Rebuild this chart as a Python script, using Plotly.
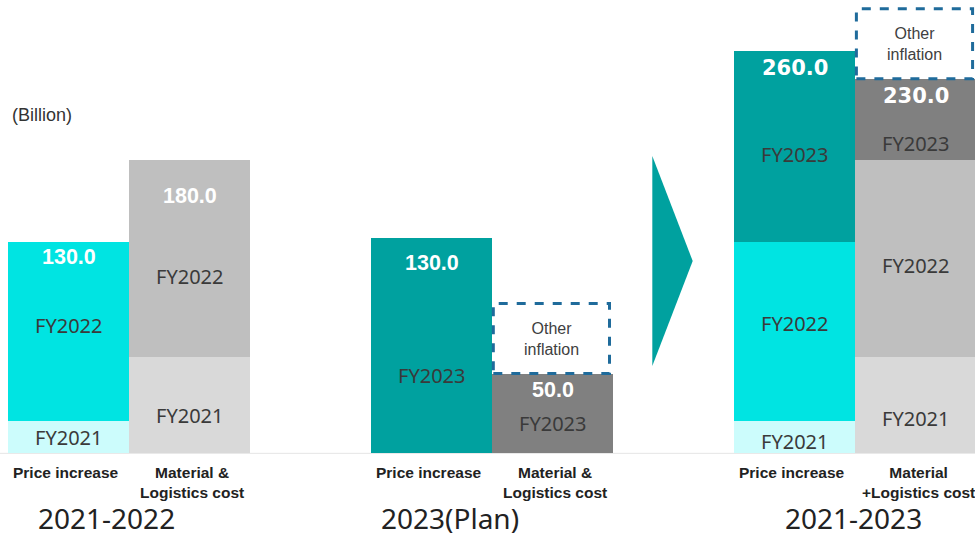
import plotly.graph_objects as go

# ---- data (segment heights as drawn, in billions) ----
groups = ["2021-2022", "2023(Plan)", "2021-2023"]
price_label = "Price increase"
material_labels = ["Material &<br>Logistics cost", "Material &<br>Logistics cost", "Material<br>+Logistics cost"]
segment_names = ["FY2021", "FY2022", "FY2023"]

price_fy2021 = [20, 0, 20]
price_fy2022 = [110, 0, 110]
price_fy2023 = [0, 132, 117]

material_fy2021 = [59, 0, 59]
material_fy2022 = [121, 0, 121]
material_fy2023 = [0, 49, 50]

other_inflation = [0, 43, 43]

price_totals = ["130.0", "130.0", "260.0"]
material_totals = ["180.0", "50.0", "230.0"]

# ---- positions / styles ----
price_x = [0, 3, 6]
material_x = [1, 4, 7]
group_label_x = [0.31, 3.15, 6.49]

price_colors = ["#CCFCFC", "#00E4E2", "#00A19F"]
material_colors = ["#D9D9D9", "#BFBFBF", "#808080"]

price_series = [price_fy2021, price_fy2022, price_fy2023]
material_series = [material_fy2021, material_fy2022, material_fy2023]

# pixel offsets of segment labels from segment middle
price_shift = [[0, 6, 0], [0, 0, -30], [-4, 8, -8]]
material_shift = [[-10, -18, 0], [0, 0, -10], [-13, -7, -24]]
price_total_shift = [-15, -25, -17]
material_total_shift = [-36, -16, -17]
total_fonts = ["Liberation Sans", "Liberation Sans", "DejaVu Sans"]
total_sizes = [21.5, 21.5, 21]

fig = go.Figure()

for i, name in enumerate(segment_names):
    fig.add_trace(go.Bar(x=price_x, y=price_series[i], width=1,
                         marker=dict(color=price_colors[i], line=dict(width=0)),
                         name="Price " + name, showlegend=False, hoverinfo="skip"))
for i, name in enumerate(segment_names):
    fig.add_trace(go.Bar(x=material_x, y=material_series[i], width=1,
                         marker=dict(color=material_colors[i], line=dict(width=0)),
                         name="Material " + name, showlegend=False, hoverinfo="skip"))

annotations = []
shapes = []

seg_font = dict(family="Noto Sans, DejaVu Sans, sans-serif", size=20, color="#3A3A3A")
cat_font = dict(family="Liberation Sans, Arial, sans-serif", size=15.5, color="#222222")

for g in range(3):
    # price segments
    base = 0
    for i in range(3):
        v = price_series[i][g]
        if v > 0:
            annotations.append(dict(x=price_x[g], y=base + v / 2, text=segment_names[i],
                                    showarrow=False, font=seg_font, yshift=price_shift[g][i]))
        base += v
    annotations.append(dict(x=price_x[g], y=base, text="<b>%s</b>" % price_totals[g], showarrow=False,
                            font=dict(family=total_fonts[g], size=total_sizes[g], color="white"),
                            yshift=price_total_shift[g]))
    # material segments
    base = 0
    for i in range(3):
        v = material_series[i][g]
        if v > 0:
            annotations.append(dict(x=material_x[g], y=base + v / 2, text=segment_names[i],
                                    showarrow=False, font=seg_font, yshift=material_shift[g][i]))
        base += v
    annotations.append(dict(x=material_x[g], y=base, text="<b>%s</b>" % material_totals[g], showarrow=False,
                            font=dict(family=total_fonts[g], size=total_sizes[g], color="white"),
                            yshift=material_total_shift[g]))
    # other inflation dashed box
    if other_inflation[g] > 0:
        shapes.append(dict(type="rect", xref="x", yref="y",
                           x0=material_x[g] - 0.49, x1=material_x[g] + 0.47,
                           y0=base, y1=base + other_inflation[g],
                           line=dict(color="#1F6B9B", width=3, dash="dash"),
                           fillcolor="rgba(255,255,255,0)"))
        annotations.append(dict(x=material_x[g] - 0.01, y=base + other_inflation[g] / 2,
                                text="Other<br>inflation", showarrow=False,
                                font=dict(family="Liberation Sans, Arial, sans-serif", size=16, color="#404040")))
    # category labels
    annotations.append(dict(x=price_x[g] - 0.02, y=0, yanchor="top", yshift=-9, text="<b>%s</b>" % price_label,
                            showarrow=False, font=cat_font))
    annotations.append(dict(x=material_x[g] + 0.02, y=0, yanchor="top", yshift=-9,
                            text="<b>%s</b>" % material_labels[g], showarrow=False, align="center",
                            font=cat_font))
    # group labels
    annotations.append(dict(x=group_label_x[g], y=0, yanchor="middle", yshift=-65, text=groups[g],
                            showarrow=False,
                            font=dict(family="Noto Sans, DejaVu Sans, sans-serif", size=28, color="#222222")))

annotations.append(dict(xref="paper", yref="paper", x=10 / 975, y=1 - 115 / 539, xanchor="left",
                        yanchor="middle", text="(Billion)", showarrow=False,
                        font=dict(family="Liberation Sans, Arial, sans-serif", size=18, color="#333333")))

# baseline
shapes.append(dict(type="line", xref="paper", yref="y", x0=0, x1=1, y0=0, y1=0,
                   line=dict(color="#E6E6E6", width=1), layer="below"))
# arrow
W, H = 975, 539
pts = [(652.3, 156), (692.7, 261), (652.3, 366)]
path = "M " + " L ".join("%f,%f" % (px / W, 1 - py / H) for px, py in pts) + " Z"
shapes.append(dict(type="path", xref="paper", yref="paper", path=path,
                   fillcolor="#00A19F", line=dict(width=0)))

fig.update_layout(
    width=975, height=539,
    margin=dict(l=0, r=0, t=0, b=0),
    barmode="stack", bargap=0,
    plot_bgcolor="white", paper_bgcolor="white",
    xaxis=dict(range=[-0.566, 7.49], visible=False, fixedrange=True),
    yaxis=dict(range=[-52.6, 278.4], visible=False, fixedrange=True),
    annotations=annotations, shapes=shapes,
    showlegend=False,
)

fig.write_html("out.html", config={"displayModeBar": False},
               post_script="document.body.style.margin='0';document.body.style.overflow='hidden';")
